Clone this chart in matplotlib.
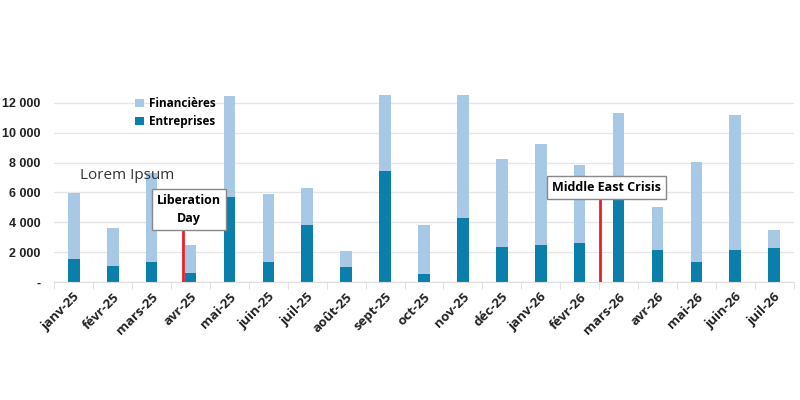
import matplotlib.pyplot as plt
from matplotlib.ticker import FuncFormatter, FixedLocator

months = ['janv-25', 'févr-25', 'mars-25', 'avr-25', 'mai-25', 'juin-25', 'juil-25',
          'août-25', 'sept-25', 'oct-25', 'nov-25', 'déc-25', 'janv-26', 'févr-26',
          'mars-26', 'avr-26', 'mai-26', 'juin-26', 'juil-26']
entreprises = [1560, 1070, 1340, 620, 5700, 1310, 3840, 1000, 7440, 540, 4310,
               2320, 2450, 2610, 5630, 2170, 1310, 2170, 2300]
totals = [5970, 3600, 7300, 2480, 12490, 5870, 6300, 2080, 12550, 3850, 12500,
          8250, 9250, 7820, 11300, 5000, 8020, 11170, 3460]
financieres = [t - e for t, e in zip(totals, entreprises)]

events = ['Liberation\nDay', 'Middle East Crisis']
event_x = [2.81, 13.52]
event_top = [3630, 5710]
event_box_x = [2.96, 13.68]
event_box_y = [4850, 6320]

dark = '#0b7fab'
light = '#a7c9e6'

fig = plt.figure(figsize=(8, 4), dpi=100)
ax = fig.add_axes([0.068, 0.295, 0.924, 0.47])

x = list(range(len(months)))
ax.bar(x, entreprises, width=0.3, color=dark, label='Entreprises', zorder=2)
ax.bar(x, financieres, width=0.3, bottom=entreprises, color=light,
       label='Financières', zorder=2)

ax.set_xlim(-0.5, len(months) - 0.5)
ax.set_ylim(0, 12600)
ax.set_yticks(range(0, 12001, 2000))
ax.yaxis.set_major_formatter(FuncFormatter(
    lambda v, p: '-' if v == 0 else f'{int(v):,}'.replace(',', ' ')))
ax.grid(axis='y', color='#e6e6e6', linewidth=1, zorder=0)

ax.set_xticks(x)
ax.set_xticklabels(months, rotation=45, ha='right', rotation_mode='anchor',
                   fontweight='bold', fontsize=9.5, color='#222222', family='Open Sans')
ax.tick_params(axis='x', which='major', length=0, pad=6)
ax.xaxis.set_minor_locator(FixedLocator([i - 0.5 for i in range(len(months) + 1)]))
ax.tick_params(axis='x', which='minor', length=5, color='#dddddd')
ax.tick_params(axis='y', length=0, pad=10)
for lab in ax.get_yticklabels():
    lab.set_fontweight('bold')
    lab.set_fontfamily('Liberation Sans')
    lab.set_fontsize(9)
    lab.set_color('#222222')

for s in ['top', 'right', 'left']:
    ax.spines[s].set_visible(False)
ax.spines['bottom'].set_color('#dddddd')

# event markers
for name, xl, top, bx, by in zip(events, event_x, event_top, event_box_x, event_box_y):
    ax.plot([xl, xl], [0, top], color='#e8202a', lw=2, zorder=4)
    ax.text(bx, by, name, ha='center', va='center', fontsize=9, fontweight='bold',
            family='Open Sans', linespacing=1.5, zorder=5,
            bbox=dict(boxstyle='square,pad=0.4', fc='white', ec='#888888', lw=1))

ax.text(0.15, 7130, 'Lorem Ipsum', fontsize=11, color='#333333', family='Open Sans',
        va='center', zorder=5)

handles, labels = ax.get_legend_handles_labels()
ax.legend(handles[::-1], labels[::-1], loc='upper left', bbox_to_anchor=(0.095, 1.04),
          frameon=False, handlelength=0.7, handleheight=0.7, handletextpad=0.5,
          prop={'weight': 'bold', 'size': 8.5, 'family': 'Open Sans'}, labelspacing=0.45)

fig.savefig('out.png', dpi=100)
